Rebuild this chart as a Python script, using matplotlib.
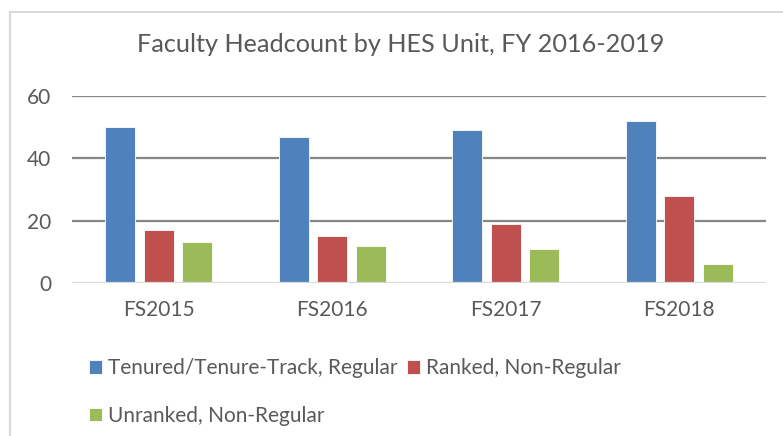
import numpy as np
import matplotlib
matplotlib.use('Agg')
import matplotlib.pyplot as plt
from matplotlib.patches import Rectangle

# values
years = ['FS2015', 'FS2016', 'FS2017', 'FS2018']
tenured = [50, 47, 49, 52]
ranked = [17, 15, 19, 28]
unranked = [13, 12, 11, 6]
series_names = ['Tenured/Tenure-Track, Regular', 'Ranked, Non-Regular', 'Unranked, Non-Regular']
colors = ['#4F81BD', '#C0504D', '#9BBB59']
yticks = [0, 20, 40, 60]

plt.rcParams['font.family'] = ['Lato', 'DejaVu Sans']
TXT = '#595959'

fig = plt.figure(figsize=(7.83, 4.36), dpi=100)
ax = fig.add_axes([72 / 783, 1 - 283 / 436, (766 - 72) / 783, (283 - 96) / 436])

x = np.arange(len(years))
w = 0.173
step = 0.221
bars = []
for i, (vals, c) in enumerate(zip([tenured, ranked, unranked], colors)):
    b = ax.bar(x + (i - 1) * step, vals, w, color=c, edgecolor='white', linewidth=0.6,
               label=series_names[i], zorder=3)
    bars.append(b)

ax.set_xlim(-0.5, len(years) - 0.5)
ax.set_ylim(0, 60)
ax.set_yticks(yticks)
ax.set_xticks(x)
ax.set_xticklabels(years)
for y in yticks[1:]:
    ax.axhline(y, color='#868686', linewidth=1.6, zorder=1)
ax.axhline(0, color='#D9D9D9', linewidth=1.6, zorder=4)
for s in ax.spines.values():
    s.set_visible(False)
ax.tick_params(axis='both', length=0, labelsize=15, colors=TXT)
ax.tick_params(axis='y', pad=15)
ax.tick_params(axis='x', pad=12)

fig.text(401 / 783, 1 - 45 / 436, 'Faculty Headcount by HES Unit, FY 2016-2019',
         ha='center', va='center', fontsize=18.2, color=TXT)

# Excel-style flow legend: two entries on the first row, one on the second
leg = fig.legend([bars[0], bars[2], bars[1]],
                 [series_names[0], series_names[2], series_names[1]],
                 ncol=2, loc='upper left', bbox_to_anchor=(79 / 783, 1 - 348 / 436),
                 frameon=False, fontsize=15, labelcolor=TXT, borderpad=0,
                 handlelength=0.6, handleheight=0.6, handletextpad=0.3,
                 columnspacing=0.45, labelspacing=1.3)

# chart border (cropped at right and bottom in the reference)
fig.patches.append(Rectangle((10 / 783, -0.1), 2, (1 - 12 / 436) + 0.1,
                             transform=fig.transFigure, fill=False,
                             edgecolor='#D9D9D9', linewidth=1.5))

fig.savefig('out.png', dpi=100)
